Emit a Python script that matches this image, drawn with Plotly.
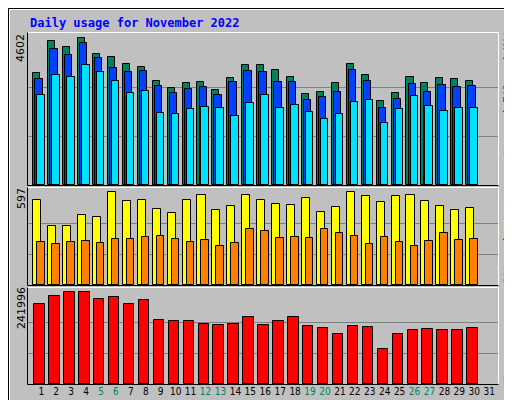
import plotly.graph_objects as go

days = list(range(1, 32))
hits = [3506,4508,4320,4602,4101,4007,3788,3694,3256,3037,3193,3224,2974,3350,3757,3757,3600,3381,2849,2911,3193,3788,3444,2630,2880,3381,3193,3350,3318,3256]
files = [3318,4257,4070,4445,3976,3663,3537,3569,3099,2880,3005,3068,2817,3224,3569,3537,3224,3224,2661,2755,2911,3600,3256,2410,2692,3162,2911,3131,3068,3099]
pages = [2817,3444,3381,3757,3537,3256,2880,2943,2254,2223,2379,2442,2410,2160,2567,2817,2410,2504,2285,2066,2223,2598,2661,1941,2379,2786,2473,2317,2410,2410]
visits = [545,383,383,454,441,597,539,545,487,461,545,578,480,506,578,545,519,513,558,467,500,597,571,532,571,578,539,506,480,493]
sites = [279,266,279,286,273,299,299,311,318,299,279,292,253,273,363,350,305,311,305,363,337,318,266,311,279,253,286,337,292,299]
kbytes = [210077,231350,241996,241996,223373,228692,210077,220714,170189,167530,167530,159552,156893,159552,175507,156893,167530,175507,154234,148915,132960,154234,151574,93072,132960,143597,146256,143597,143597,148915]
weekends = [5, 6, 12, 13, 19, 20, 26, 27]
max_hits, max_visits, max_kb = 4602, 597, 241996

W, H = 512, 400
BG = "#C0C0C0"
fig = go.Figure()
line = dict(color="black", width=1)
d30 = days[:30]

def add(y, color, off, width, ax):
    fig.add_trace(go.Bar(x=d30, y=y, marker=dict(color=color, line=line),
                         offset=off, width=width, xaxis="x", yaxis=ax, showlegend=False))

add(hits, "#00805C", -0.54, 0.47, "y")
add(files, "#0040FF", -0.40, 0.49, "y")
add(pages, "#00E0FF", -0.27, 0.50, "y")
add(visits, "#FFFF00", -0.54, 0.54, "y2")
add(sites, "#FF8000", -0.27, 0.50, "y2")
add(kbytes, "#FF0000", -0.47, 0.70, "y3")

ticktext = [f"<span style='color:#00805F'>{d}</span>" if d in weekends else str(d) for d in days]
x0, x1 = 20 / W, 490 / W
def dom(top, bot):
    return [1 - bot / H, 1 - top / H]

def yax(d, mx, frac, anchor="x"):
    return dict(domain=d, range=[0, mx * frac], tickvals=[mx / 3, 2 * mx / 3], showticklabels=False,
                gridcolor="#808080", gridwidth=1, zeroline=False, anchor=anchor, fixedrange=True)

fig.update_layout(
    width=W, height=H, margin=dict(l=0, r=0, t=0, b=0),
    paper_bgcolor=BG, plot_bgcolor=BG, barmode="overlay", bargap=0,
    font=dict(family="DejaVu Sans", size=11, color="black"),
    xaxis=dict(domain=[x0, x1], range=[0.11, 31.59], tickvals=days, ticktext=ticktext,
               showgrid=False, zeroline=False, ticks="", anchor="y3", fixedrange=True,
               tickangle=0, tickfont=dict(size=10, family="DejaVu Sans Condensed, DejaVu Sans")),
    yaxis=yax(dom(25, 177), max_hits, 152 / 147),
    yaxis2=yax(dom(180, 277), max_visits, 97 / 92.7),
    yaxis3=yax(dom(280, 376), max_kb, 96 / 91.7),
)

shapes = []
def px(x, y):
    return x / W, 1 - y / H
def seg(xa, ya, xb, yb, color, w=1):
    a, b = px(xa, ya), px(xb, yb)
    shapes.append(dict(type="line", xref="paper", yref="paper", x0=a[0], y0=a[1], x1=b[0], y1=b[1],
                       line=dict(color=color, width=w)))
seg(0.5, 0.5, 511.5, 0.5, "black"); seg(0.5, 0.5, 0.5, 399.5, "black")
seg(511.5, 0.5, 511.5, 399.5, "black"); seg(0.5, 399.5, 511.5, 399.5, "black")
seg(1.5, 1.5, 510, 1.5, "white"); seg(1.5, 1.5, 1.5, 398, "white")
seg(509.5, 2, 509.5, 398, "#808080"); seg(2, 397.5, 509.5, 397.5, "#808080")
seg(510.5, 2, 510.5, 398, "#808080"); seg(2, 398.5, 510.5, 398.5, "#808080")
for t, b in [(24.5, 177.5), (179.5, 277.5), (279.5, 376.5)]:
    seg(19.5, t, 490.5, t, "white"); seg(490.5, t, 490.5, b, "white")
    seg(19.5, t, 19.5, b, "black"); seg(19.5, b, 490.5, b, "black")
fig.update_layout(shapes=shapes)

ann = []
def note(x, y, text, angle=-90, size=11, xanchor="center", yanchor="middle", family="DejaVu Sans"):
    ann.append(dict(xref="paper", yref="paper", x=x / W, y=1 - y / H, text=text, showarrow=False,
                    textangle=angle, xanchor=xanchor, yanchor=yanchor,
                    font=dict(size=size, family=family)))
note(20, 15, "<b>Daily usage for November 2022</b>", angle=0, size=12, xanchor="left",
     family="DejaVu Sans Mono")
ann[-1]["font"]["color"] = "#0000FF"
note(13, 40, str(max_hits))
note(13, 191, str(max_visits))
note(13, 300, str(max_kb))
mono = "DejaVu Sans Mono"
note(500, 82, "<span style='color:#00E0FF'>Pages</span> / <span style='color:#0040FF'>Files</span> / <span style='color:#00805C'>Hits</span>", family=mono)
note(500, 230, "<span style='color:#FF8000'>Sites</span> / <span style='color:#FFFF00'>Visits</span>", family=mono)
note(500, 359, "<span style='color:#FF0000'>KBytes</span>", family=mono)
fig.update_layout(annotations=ann)

fig.write_html("out.html")
